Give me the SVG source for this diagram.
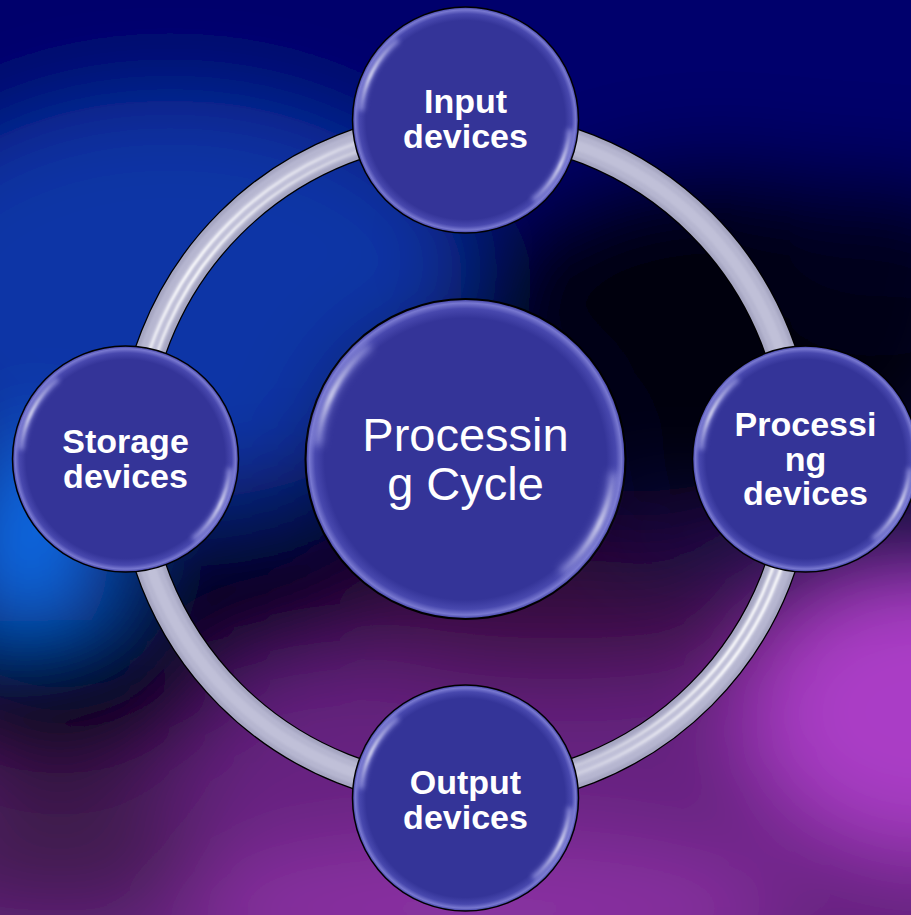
<svg xmlns="http://www.w3.org/2000/svg" xmlns:xlink="http://www.w3.org/1999/xlink" width="911" height="915" viewBox="0 0 911 915">
  <style>
    .lbl { font-family: "Liberation Sans", Arial, sans-serif; font-weight: bold; font-size: 34px; fill: #ffffff; text-anchor: middle; }
    .hub { font-family: "Liberation Sans", Arial, sans-serif; font-size: 47px; fill: #ffffff; text-anchor: middle; }
  </style>
  <defs>
    <filter id="haze" filterUnits="userSpaceOnUse" x="-200" y="-200" width="1311" height="1315">
      <feGaussianBlur stdDeviation="45"/>
    </filter>
    <filter id="soft" x="-20%" y="-20%" width="140%" height="140%">
      <feGaussianBlur stdDeviation="1.2"/>
    </filter>
    <filter id="softer" x="-20%" y="-20%" width="140%" height="140%">
      <feGaussianBlur stdDeviation="2.5"/>
    </filter>

    <!-- orb body: flat blue with a lighter rim -->
    <radialGradient id="orbFill" cx="0" cy="0" r="100" gradientUnits="userSpaceOnUse">
      <stop offset="0" stop-color="#343498"/>
      <stop offset="0.88" stop-color="#343498"/>
      <stop offset="0.94" stop-color="#4848ae"/>
      <stop offset="0.975" stop-color="#7878d0"/>
      <stop offset="1" stop-color="#3c3ca2"/>
    </radialGradient>
    <linearGradient id="glintA" gradientUnits="userSpaceOnUse" x1="-92.6" y1="-8" x2="-59.8" y2="-71.2">
      <stop offset="0" stop-color="#fff" stop-opacity="0"/>
      <stop offset="0.45" stop-color="#fff" stop-opacity="1"/>
      <stop offset="1" stop-color="#fff" stop-opacity="0"/>
    </linearGradient>
    <linearGradient id="glintB" gradientUnits="userSpaceOnUse" x1="92.6" y1="8" x2="59.8" y2="71.2">
      <stop offset="0" stop-color="#fff" stop-opacity="0"/>
      <stop offset="0.45" stop-color="#fff" stop-opacity="1"/>
      <stop offset="1" stop-color="#fff" stop-opacity="0"/>
    </linearGradient>

    <!-- reusable glossy orb, radius 100 -->
    <g id="orb">
      <circle r="100" fill="url(#orbFill)" stroke="#000" stroke-width="1.3"/>
      <path d="M -92.6 -8.1 A 93 93 0 0 1 -59.8 -71.2" fill="none" stroke="#9a9ae6" stroke-width="6" opacity="0.6" filter="url(#softer)"/>
      <path d="M 92.6 8.1 A 93 93 0 0 1 59.8 71.2" fill="none" stroke="#9a9ae6" stroke-width="6" opacity="0.6" filter="url(#softer)"/>
      <path d="M -92.6 -8.1 A 93 93 0 0 1 -59.8 -71.2" fill="none" stroke="url(#glintA)" stroke-width="2.2" filter="url(#soft)"/>
      <path d="M 92.6 8.1 A 93 93 0 0 1 59.8 71.2" fill="none" stroke="url(#glintB)" stroke-width="2.2" filter="url(#soft)"/>
    </g>

    <!-- stripe fades on the ring -->
    <linearGradient id="ringGlintTL" gradientUnits="userSpaceOnUse" x1="140" y1="431" x2="437" y2="134">
      <stop offset="0" stop-color="#fff" stop-opacity="0.5"/>
      <stop offset="0.35" stop-color="#fff" stop-opacity="0.95"/>
      <stop offset="0.75" stop-color="#fff" stop-opacity="0.5"/>
      <stop offset="1" stop-color="#fff" stop-opacity="0"/>
    </linearGradient>
    <linearGradient id="ringGlintBR" gradientUnits="userSpaceOnUse" x1="791" y1="487" x2="494" y2="784">
      <stop offset="0" stop-color="#fff" stop-opacity="0.9"/>
      <stop offset="0.4" stop-color="#fff" stop-opacity="0.95"/>
      <stop offset="0.8" stop-color="#fff" stop-opacity="0.3"/>
      <stop offset="1" stop-color="#fff" stop-opacity="0"/>
    </linearGradient>
  </defs>

  <!-- blurred backdrop -->
  <g id="backdrop">
    <rect width="911" height="915" fill="#0a0a3a"/>
    <g filter="url(#haze)">
      <rect x="-100" y="-100" width="1111" height="330" fill="#03066c"/>
      <ellipse cx="170" cy="300" rx="300" ry="200" fill="#0a34a6"/>
      <ellipse cx="30" cy="550" rx="80" ry="110" fill="#0a6ae6"/>
      <ellipse cx="720" cy="330" rx="260" ry="170" fill="#00000a"/>
      <ellipse cx="880" cy="250" rx="120" ry="80" fill="#02021a"/>
      <ellipse cx="470" cy="470" rx="150" ry="150" fill="#050528"/>
      <ellipse cx="260" cy="600" rx="120" ry="60" fill="#04041e"/>
      <path d="M -100 740 L 300 660 L 700 570 L 1011 540 L 1011 1015 L -100 1015 Z" fill="#662080"/>
      <ellipse cx="560" cy="620" rx="220" ry="60" fill="#3a1042"/>
      <ellipse cx="870" cy="590" rx="90" ry="50" fill="#4a1a5c"/>
      <ellipse cx="930" cy="710" rx="180" ry="140" fill="#aa3ec6"/>
      <ellipse cx="480" cy="910" rx="300" ry="70" fill="#8a30a2"/>
      <ellipse cx="60" cy="700" rx="160" ry="80" fill="#030312"/>
      <ellipse cx="60" cy="850" rx="150" ry="60" fill="#3c1a4a"/>
    </g>
  </g>

  <!-- connector ring -->
  <g id="connectors">
    <circle cx="465.5" cy="459" r="333" fill="none" stroke="#000" stroke-width="32"/>
    <circle cx="465.5" cy="459" r="333" fill="none" stroke="#a6a6c2" stroke-width="29.5"/>
    <circle cx="465.5" cy="459" r="333" fill="none" stroke="#b6b6d0" stroke-width="22" filter="url(#soft)"/>
    <circle cx="465.5" cy="459" r="333" fill="none" stroke="#c0c0d8" stroke-width="10" filter="url(#soft)"/>
    <!-- upper-left stripes -->
    <path d="M 140.7 430.6 A 326 326 0 0 1 437.1 134.2" fill="none" stroke="url(#ringGlintTL)" stroke-width="3" filter="url(#soft)"/>
    <path d="M 132.7 429.9 A 334 334 0 0 1 436.4 126.3" fill="none" stroke="url(#ringGlintTL)" stroke-width="3" filter="url(#soft)"/>
    <!-- lower-right stripes -->
    <path d="M 790.3 487.4 A 326 326 0 0 1 493.9 783.8" fill="none" stroke="url(#ringGlintBR)" stroke-width="3" filter="url(#soft)"/>
    <path d="M 798.3 488.1 A 334 334 0 0 1 494.6 791.7" fill="none" stroke="url(#ringGlintBR)" stroke-width="3" filter="url(#soft)"/>
  </g>

  <g id="node-input">
    <use href="#orb" transform="translate(465.5 120) scale(1.13)"/>
    <text class="lbl" x="465.5" y="113">Input</text>
    <text class="lbl" x="465.5" y="148">devices</text>
  </g>

  <g id="node-processing">
    <use href="#orb" transform="translate(805.5 459) scale(1.13)"/>
    <text class="lbl" x="805.5" y="436">Processi</text>
    <text class="lbl" x="805.5" y="470.5">ng</text>
    <text class="lbl" x="805.5" y="505">devices</text>
  </g>

  <g id="node-output">
    <use href="#orb" transform="translate(465.5 798) scale(1.13)"/>
    <text class="lbl" x="465.5" y="794">Output</text>
    <text class="lbl" x="465.5" y="829">devices</text>
  </g>

  <g id="node-storage">
    <use href="#orb" transform="translate(125.5 459) scale(1.13)"/>
    <text class="lbl" x="125.5" y="453">Storage</text>
    <text class="lbl" x="125.5" y="488">devices</text>
  </g>

  <g id="node-cycle">
    <use href="#orb" transform="translate(465.5 459) scale(1.6)"/>
    <text class="hub" x="465.5" y="451">Processin</text>
    <text class="hub" x="465.5" y="500">g Cycle</text>
  </g>
</svg>
